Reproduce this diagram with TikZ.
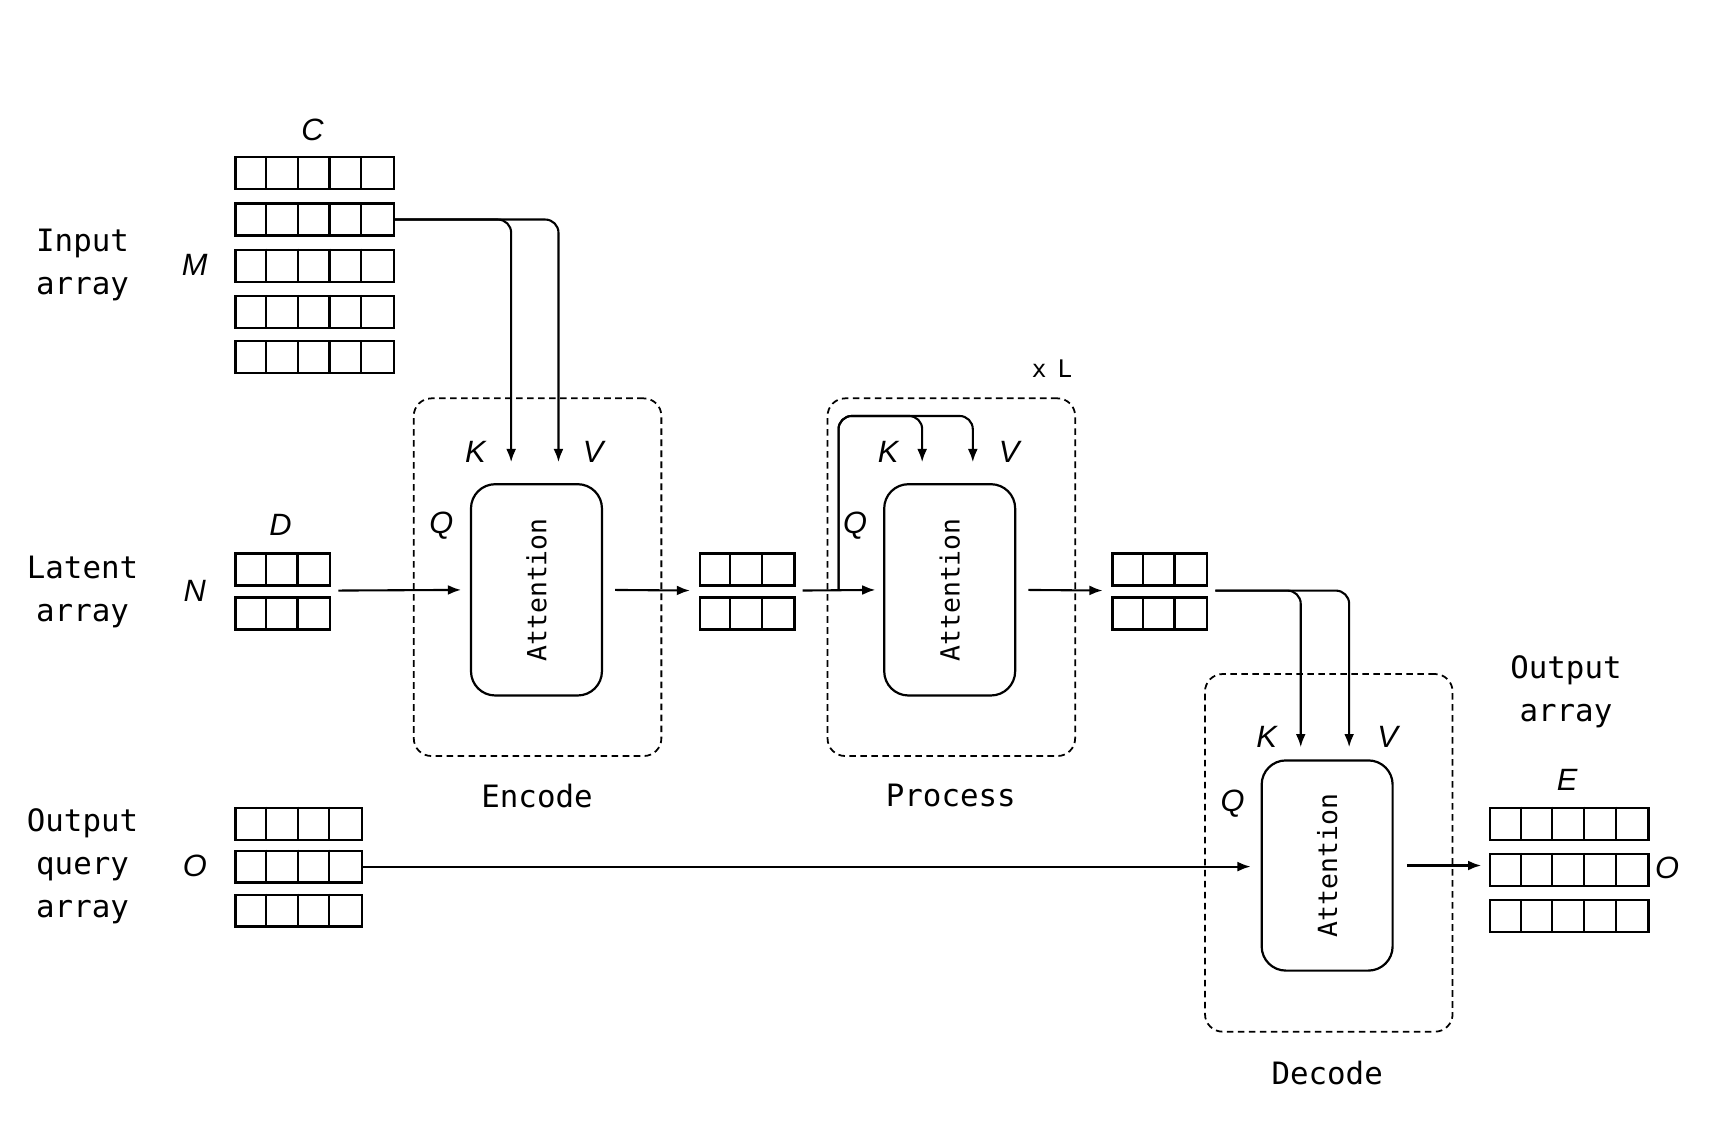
\documentclass[tikz,border=0pt]{standalone}
\usepackage{fontspec}
\setmonofont{DejaVu Sans Mono}
\newfontfamily\itf{Liberation Sans}
\usetikzlibrary{arrows.meta,calc}
\tikzset{
  x=1pt, y=-1pt,
  ln/.style={line width=2pt},
  rowbox/.style={draw, line width=2pt, minimum height=29pt, inner sep=0pt, anchor=north west},
  grp/.style={inner sep=0pt, anchor=north west},
  attn/.style={draw, line width=2pt, rounded corners=22pt, minimum width=119pt, minimum height=192pt, inner sep=0pt},
  stage/.style={draw, line width=1.6pt, dash pattern=on 6pt off 4pt, rounded corners=16pt, minimum width=225pt, minimum height=325pt, inner sep=0pt},
  arr/.style={line width=1.9pt, -{Latex[length=12pt,width=9pt]}},
  lbl/.style={font=\fontsize{28}{39}\selectfont\ttfamily, align=center},
  att/.style={font=\fontsize{24}{28}\selectfont\ttfamily, rotate=90},
  var/.style={font=\fontsize{28}{32}\selectfont\itf\itshape},
}
\newcommand\cellrow[5]{% name, x, y, cells, width
  \node[rowbox, minimum width=#5pt] (#1) at (#2,#3) {};
  \foreach \i in {1,...,\numexpr#4-1\relax}
    \draw[ln] ($(#1.north west)+(\i*#5/#4,0)$) -- ($(#1.south west)+(\i*#5/#4,0)$);
}
\begin{document}
\begin{tikzpicture}
\fill[white] (0,0) rectangle (1563,1027);
\useasboundingbox (0,0) rectangle (1563,1027);

% ---------- arrays ----------
\cellrow{in1}{213}{142}{5}{144}
\cellrow{in2}{213}{184}{5}{144}
\cellrow{in3}{213}{226}{5}{144}
\cellrow{in4}{213}{268}{5}{144}
\cellrow{in5}{213}{309}{5}{144}

\cellrow{la1}{213}{502}{3}{86}
\cellrow{la2}{213}{542}{3}{86}
\node[grp, minimum width=86pt, minimum height=69pt] (lat1) at (213,502) {};

\cellrow{lb1}{635}{502}{3}{86}
\cellrow{lb2}{635}{542}{3}{86}
\node[grp, minimum width=86pt, minimum height=69pt] (lat2) at (635,502) {};

\cellrow{lc1}{1010}{502}{3}{86}
\cellrow{lc2}{1010}{542}{3}{86}
\node[grp, minimum width=86pt, minimum height=69pt] (lat3) at (1010,502) {};

\cellrow{q1}{213}{733}{4}{115}
\cellrow{q2}{213}{772}{4}{115}
\cellrow{q3}{213}{812}{4}{115}

\cellrow{o1}{1353}{733}{5}{144}
\cellrow{o2}{1353}{775}{5}{144}
\cellrow{o3}{1353}{817}{5}{144}

% ---------- stages ----------
\node[stage] (enc) at (488.5,524.5) {};
\node[stage] (proc) at (864.5,524.5) {};
\node[stage] (dec) at (1207.5,775) {};

\node[attn] (attn1) at (487.5,536) {};
\node[att] at (attn1) {Attention};
\node[attn] (attn2) at (863,536) {};
\node[att] at (attn2) {Attention};
\node[attn, minimum height=191pt] (attn3) at (1206,786.5) {};
\node[att] at (attn3) {Attention};

% ---------- labels ----------
\node[lbl] (tin) at (75,241) {Input\\array};
\node[lbl] (tlat) at (75,538) {Latent\\array};
\node[lbl] (tq) at (75,787) {Output\\query\\array};
\node[lbl] (tout) at (1423,629) {Output\\array};
\node[lbl] (tenc) at (488,723) {Encode};
\node[lbl] (tproc) at (864,723) {Process};
\node[lbl] (tdec) at (1206,975) {Decode};
\node[font=\fontsize{22}{26}\selectfont\ttfamily] (xl) at (956,335) {x\kern-3pt{} L};

\node[var] (vC) at (284,118) {C};
\node[var] (vM) at (177,241) {M};
\node[var] (vD) at (255,477) {D};
\node[var] (vN) at (177,537) {N};
\node[var] (vO) at (177,787) {O};
\node[var] (vE) at (1424,709) {E};
\node[var] (vO2) at (1515,789) {O};

\node[var] (k1) at (432,411) {K};
\node[var] (v1) at (539,411) {V};
\node[var] (qq1) at (401,478) {Q};
\node[var] (k2) at (807,411) {K};
\node[var] (v2) at (917,411) {V};
\node[var] (qq2) at (777,478) {Q};
\node[var] (k3) at (1151,670) {K};
\node[var] (v3) at (1261,670) {V};
\node[var] (qq3) at (1120,730) {Q};

% ---------- connectors ----------
% encode K, V from input array
\coordinate (ek) at ($(attn1.north)+(-23,0)$);
\coordinate (ev) at ($(attn1.north)+(20,0)$);
\draw[arr, rounded corners=12pt, shorten >=19pt] (in2.east) -| (ek);
\draw[arr, rounded corners=12pt, shorten >=19pt] (in2.east) -| (ev);

% latent -> encode -> latent
\draw[arr, shorten <=8pt, shorten >=8pt] (lat1.east) -- (attn1.west);
\draw[arr, shorten <=11pt, shorten >=8pt] (attn1.east) -- (lat2.west);
\draw[arr, shorten <=8pt, shorten >=7pt] (lat2.east) -- (attn2.west);

% process self-attention loop
\coordinate (qb) at (762,536);
\coordinate (top2) at (762,378);
\coordinate (pk) at ($(attn2.north)+(-25,0)$);
\coordinate (pv) at ($(attn2.north)+(21,0)$);
\draw[arr, rounded corners=12pt, shorten >=19pt] (qb) -- (top2) -| (pk);
\draw[arr, rounded corners=12pt, shorten >=19pt] (qb) -- (top2) -| (pv);

\draw[arr, shorten <=11pt, shorten >=8pt] (attn2.east) -- (lat3.west);

% decode K, V from latent
\coordinate (dk) at ($(attn3.north)+(-24,0)$);
\coordinate (dv) at ($(attn3.north)+(20,0)$);
\draw[arr, rounded corners=12pt, shorten <=8pt, shorten >=11pt] (lat3.east) -| (dk);
\draw[arr, rounded corners=12pt, shorten <=8pt, shorten >=11pt] (lat3.east) -| (dv);

% query -> decode -> output
\draw[arr, shorten >=9pt] (q2.east) -- (q2.east -| attn3.west);
\draw[arr, shorten <=12pt, shorten >=7pt] (attn3.east) -- (attn3.east -| o2.west);
\end{tikzpicture}
\end{document}
